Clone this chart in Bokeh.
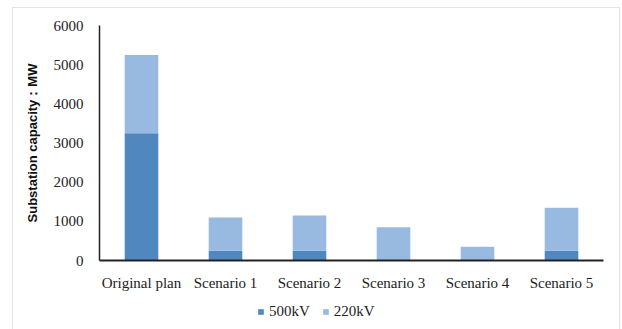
from bokeh.plotting import figure
from bokeh.models import ColumnDataSource, Range1d, Legend, LegendItem, FactorRange
from bokeh.layouts import column
from bokeh.embed import file_html
from bokeh.resources import INLINE

categories = ["Original plan", "Scenario 1", "Scenario 2", "Scenario 3", "Scenario 4", "Scenario 5"]
kv500 = [3250, 250, 250, 0, 0, 250]
kv220 = [2000, 850, 900, 850, 350, 1100]
series = ["500kV", "220kV"]
colors = ["#4f87be", "#98b9e0"]

src = ColumnDataSource(dict(cat=categories, kv500=kv500, kv220=kv220))

p = figure(x_range=FactorRange(*categories, range_padding=0), y_range=Range1d(0, 6000),
           width=606, height=285, output_backend="svg", toolbar_location=None,
           min_border_left=86, min_border_right=16, min_border_top=17, min_border_bottom=27)

p.vbar_stack(["kv500", "kv220"], x="cat", width=0.4, source=src, color=colors, line_width=0)

p.outline_line_color = None
p.xgrid.grid_line_color = None
p.ygrid.grid_line_color = None

p.yaxis.ticker = [0, 1000, 2000, 3000, 4000, 5000, 6000]
p.yaxis.major_tick_line_color = None
p.yaxis.minor_tick_line_color = None
p.yaxis.axis_line_color = "#222222"
p.yaxis.axis_line_width = 1.5
p.yaxis.major_label_text_font = "Liberation Serif"
p.yaxis.major_label_text_font_size = "15px"
p.yaxis.major_label_text_color = "#222222"
p.yaxis.major_label_standoff = 10
p.yaxis.axis_label = "Substation capacity：MW"
p.yaxis.axis_label_text_font = "Liberation Sans"
p.yaxis.axis_label_text_font_style = "bold"
p.yaxis.axis_label_text_font_size = "13px"
p.yaxis.axis_label_text_color = "#111111"
p.yaxis.axis_label_standoff = 11

p.xaxis.major_tick_line_color = None
p.xaxis.minor_tick_line_color = None
p.xaxis.axis_line_color = "#222222"
p.xaxis.axis_line_width = 2
p.xaxis.major_label_text_font = "Liberation Serif"
p.xaxis.major_label_text_font_size = "15px"
p.xaxis.major_label_text_color = "#222222"
p.xaxis.major_label_standoff = 8

# legend strip below the chart; its y range keeps the bars out of view,
# so only the legend swatches are seen
lf = figure(x_range=FactorRange(*categories), y_range=Range1d(20000, 40000),
            width=606, height=37, output_backend="svg", toolbar_location=None,
            min_border_left=0, min_border_right=0, min_border_top=0, min_border_bottom=0)
lf.axis.visible = False
lf.grid.visible = False
lf.outline_line_color = None
lr = lf.vbar_stack(["kv500", "kv220"], x="cat", width=0.4, source=src, color=colors, line_width=0)

legend = Legend(items=[LegendItem(label=s, renderers=[rr]) for s, rr in zip(series, lr)],
                orientation="horizontal", location=(158, 10),
                label_text_font="Liberation Serif", label_text_font_size="15px",
                label_text_color="#222222", glyph_width=7, glyph_height=7,
                label_standoff=5, spacing=12, padding=0, margin=0,
                border_line_color=None, background_fill_alpha=0)
lf.add_layout(legend, "center")

layout = column(p, lf, spacing=0)
layout.margin = (7, 0, 0, 12)
layout.styles = {"border": "1px solid #e3e3e3"}

open("out.html", "w").write(file_html(layout, INLINE))
